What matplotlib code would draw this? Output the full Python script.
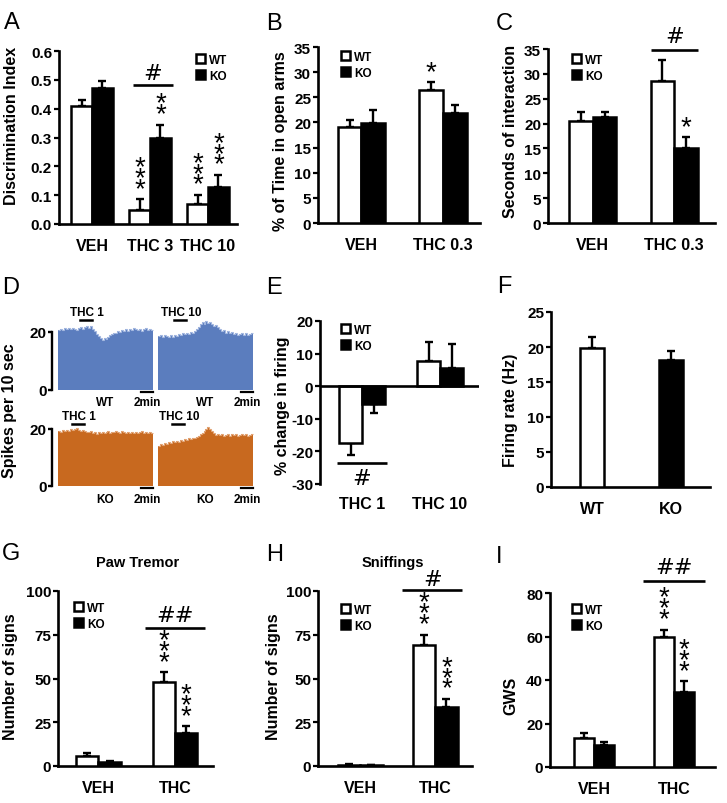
import numpy as np
import matplotlib
matplotlib.use('Agg')
import matplotlib.pyplot as plt
from matplotlib.ticker import FormatStrFormatter

plt.rcParams['font.family'] = ['Liberation Sans', 'DejaVu Sans']
plt.rcParams['font.weight'] = 'bold'
plt.rcParams['axes.unicode_minus'] = False

# ---------------- data ----------------
A_groups = ['VEH', 'THC 3', 'THC 10']
A_wt = [0.41, 0.05, 0.07]
A_wt_err = [0.02, 0.035, 0.03]
A_ko = [0.47, 0.30, 0.13]
A_ko_err = [0.025, 0.045, 0.04]
A_wt_stars = [0, 3, 3]
A_ko_stars = [0, 2, 3]

B_groups = ['VEH', 'THC 0.3']
B_wt = [19.0, 26.5]
B_wt_err = [1.5, 1.5]
B_ko = [19.8, 21.8]
B_ko_err = [2.7, 1.7]
B_wt_stars = [0, 1]
B_ko_stars = [0, 0]

C_groups = ['VEH', 'THC 0.3']
C_wt = [20.5, 28.5]
C_wt_err = [1.8, 4.2]
C_ko = [21.3, 15.0]
C_ko_err = [1.0, 2.2]
C_wt_stars = [0, 0]
C_ko_stars = [0, 1]

E_groups = ['THC 1', 'THC 10']
E_wt = [-17.3, 7.7]
E_wt_err = [3.8, 6.0]
E_ko = [-5.5, 5.6]
E_ko_err = [2.7, 7.4]

F_groups = ['WT', 'KO']
F_rate = [19.8, 18.2]
F_err = [1.6, 1.3]

G_groups = ['VEH', 'THC']
G_wt = [5.5, 47.8]
G_wt_err = [1.7, 5.7]
G_ko = [2.1, 18.9]
G_ko_err = [0.6, 3.8]
G_wt_stars = [0, 3]
G_ko_stars = [0, 3]

H_groups = ['VEH', 'THC']
H_wt = [0.8, 69.0]
H_wt_err = [0.3, 6.0]
H_ko = [0.4, 33.5]
H_ko_err = [0.2, 4.7]
H_wt_stars = [0, 3]
H_ko_stars = [0, 3]

I_groups = ['VEH', 'THC']
I_wt = [13.5, 59.8]
I_wt_err = [2.3, 3.3]
I_ko = [10.0, 34.5]
I_ko_err = [1.5, 4.9]
I_wt_stars = [0, 3]
I_ko_stars = [0, 3]

# D: firing-rate histograms (spikes per bin)
D_wt_thc1 = [20.6, 21.2, 20.8, 21.5, 21.0, 21.3, 20.9, 21.4, 21.1, 20.7, 21.3,
             21.6, 21.2, 21.8, 22.0, 21.4, 21.9, 21.0,
             20.2, 19.4, 18.6,
             17.8, 17.4, 17.9, 17.6, 18.3,
             18.9, 19.4, 19.8, 19.5, 20.2,
             20.0, 20.6, 20.3, 20.9, 20.5, 21.2, 20.8, 21.5, 21.0, 20.6, 21.1, 20.4,
             20.9, 21.3, 20.7, 21.0, 20.8]
D_wt_thc10 = [18.5, 18.9, 18.3, 19.0, 18.6, 18.2, 18.8, 18.4, 19.1,
              18.7, 19.3, 18.9, 19.5, 19.2, 19.8, 19.4,
              20.0, 19.6, 20.4, 21.0, 21.8, 22.6,
              23.5, 22.9, 23.8, 23.2, 23.6, 22.8,
              22.2, 22.5, 21.6, 21.0, 20.4, 20.8,
              19.8, 20.2, 19.5, 19.9, 19.2, 19.6, 19.0, 19.4, 19.7, 19.1, 19.5, 18.9,
              19.3, 19.6]
D_ko_thc1 = [19.3, 19.0, 19.6, 19.2, 19.8, 19.4, 20.1, 19.5, 19.9, 20.3, 19.6, 19.2,
             19.7, 19.3, 19.0,
             18.8, 19.2, 18.6, 18.9, 18.4, 18.8, 18.5, 19.0, 18.6, 18.9, 19.3, 18.7,
             19.1, 18.8, 19.4, 18.9, 18.6, 19.2, 18.8, 18.5, 19.0, 18.7, 19.1, 18.6,
             18.9, 18.5, 18.8, 19.2, 18.7, 18.9, 18.6, 18.8, 18.7]
D_ko_thc10 = [14.2, 14.8, 14.5, 15.2, 14.9, 15.5, 15.1, 15.7, 15.3, 15.9,
              15.6, 16.2, 15.8, 16.5, 16.1, 16.8, 16.4, 17.0, 16.7, 17.3,
              17.6, 18.2, 18.7, 19.3, 19.9, 20.6, 20.0, 19.2, 18.5, 18.0,
              18.3, 17.8, 18.2, 17.6, 18.0, 18.4, 17.7, 18.1, 17.9, 18.3, 17.6, 18.0,
              18.2, 17.8, 18.1, 17.7, 18.0, 18.2]
D_inj_wt = [11, 8]      # injection start bin (THC 1, THC 10)
D_inj_ko = [7, 7]
D_inj_len = 6           # bins
D_scale_bins = 6        # 2 min
D_doses = ['THC 1', 'THC 10']

# ---------------- layout helpers ----------------
W, H = 727, 804
fig = plt.figure(figsize=(W / 100, H / 100), dpi=100)


def px_axes(box):
    l, t, r, b = box
    return fig.add_axes([l / W, 1 - b / H, (r - l) / W, (b - t) / H])


def style(ax, xpad=10):
    for s in ['top', 'right']:
        ax.spines[s].set_visible(False)
    for s in ['left', 'bottom']:
        ax.spines[s].set_linewidth(1.9)
    ax.tick_params(axis='y', direction='out', length=3.5, width=1.6, labelsize=11, pad=1.5)
    ax.tick_params(axis='x', length=0, labelsize=11.5, pad=xpad)


def ylab(ax, text, box, right_px, center_px):
    l, t, r, b = box
    ax.set_ylabel(text, fontsize=11.5, fontweight='bold')
    ax.yaxis.set_label_coords((right_px + 3 - l) / (r - l), (b - center_px) / (b - t))


def errs(ax, xs, vals, es):
    vals = np.asarray(vals, float)
    es = np.asarray(es, float)
    lower = np.where(vals < 0, es, 0.0)
    upper = np.where(vals >= 0, es, 0.0)
    ax.errorbar(xs, vals, yerr=[lower, upper], fmt='none', ecolor='black',
                elinewidth=1.7, capsize=3, capthick=1.7, zorder=2, clip_on=False)


def stars(ax, xs, vals, es, counts):
    for x, v, e, n in zip(xs, vals, es, counts):
        if n == 0:
            continue
        ax.annotate('\n'.join(['*'] * n), (x, v + e), xytext=(0, 2.5),
                    textcoords='offset points', ha='center', va='baseline',
                    fontsize=20, fontweight='normal', linespacing=0.24,
                    multialignment='center', annotation_clip=False)


def sig(ax, xc, half, level, label, text_level):
    ax.plot([xc - half, xc + half], [level, level], color='black', lw=1.9,
            clip_on=False, solid_capstyle='butt')
    ax.text(xc, text_level, label, ha='center', va='center', fontsize=16,
            fontweight='normal', family='DejaVu Sans')


def legend(ax, bw, bk, box, lx, ty):
    l, t, r, b = box
    ax.legend([bw, bk], ['WT', 'KO'], loc='upper left',
              bbox_to_anchor=((lx - l) / (r - l), (b - ty) / (b - t)),
              frameon=False, fontsize=8.5, handlelength=0.8, handleheight=0.8,
              handletextpad=0.3, labelspacing=0.3, borderaxespad=0, borderpad=0)


def grouped(ax, groups, wt, wt_err, ko, ko_err, width, xlim):
    x = np.arange(len(groups))
    bw = ax.bar(x - width / 2, wt, width, color='white', edgecolor='black', linewidth=1.8, zorder=3)
    bk = ax.bar(x + width / 2, ko, width, color='black', edgecolor='black', linewidth=1.8, zorder=3)
    errs(ax, x - width / 2, wt, wt_err)
    errs(ax, x + width / 2, ko, ko_err)
    ax.set_xticks(x, groups)
    ax.set_xlim(*xlim)
    return x, bw, bk


def letter(txt, x, y):
    fig.text(x / W, 1 - y / H, txt, fontsize=17, fontweight='normal', ha='left', va='center')

# ---------------- Panel A ----------------
boxA = (59, 52, 237, 225)
ax = px_axes(boxA)
style(ax)
wA = 0.36
x, bw, bk = grouped(ax, A_groups, A_wt, A_wt_err, A_ko, A_ko_err, wA, (-0.57, 2.5))
ax.set_ylim(0, 0.6)
ax.set_yticks(np.arange(0, 0.61, 0.1))
ax.yaxis.set_major_formatter(FormatStrFormatter('%.1f'))
stars(ax, x - wA / 2, A_wt, A_wt_err, A_wt_stars)
stars(ax, x + wA / 2, A_ko, A_ko_err, A_ko_stars)
sig(ax, x[1] + 0.05, 0.34, 0.483, '#', 0.525)
legend(ax, bw, bk, boxA, 196, 55)
ylab(ax, 'Discrimination Index', boxA, 16, 126)
letter('A', 4, 23)

# ---------------- Panel B ----------------
boxB = (318, 48, 480, 224)
ax = px_axes(boxB)
style(ax)
wB = 0.29
x, bw, bk = grouped(ax, B_groups, B_wt, B_wt_err, B_ko, B_ko_err, wB, (-0.53, 1.45))
ax.set_ylim(0, 35)
ax.set_yticks(np.arange(0, 36, 5))
stars(ax, x - wB / 2, B_wt, B_wt_err, B_wt_stars)
stars(ax, x + wB / 2, B_ko, B_ko_err, B_ko_stars)
legend(ax, bw, bk, boxB, 341, 52)
ylab(ax, '% of Time in open arms', boxB, 285, 141)
letter('B', 266, 24)

# ---------------- Panel C ----------------
boxC = (548, 50, 715, 224)
ax = px_axes(boxC)
style(ax)
wC = 0.29
x, bw, bk = grouped(ax, C_groups, C_wt, C_wt_err, C_ko, C_ko_err, wC, (-0.55, 1.5))
ax.set_ylim(0, 35)
ax.set_yticks(np.arange(0, 36, 5))
stars(ax, x - wC / 2, C_wt, C_wt_err, C_wt_stars)
stars(ax, x + wC / 2, C_ko, C_ko_err, C_ko_stars)
sig(ax, x[1], 0.29, 34.8, '#', 37.6)
legend(ax, bw, bk, boxC, 572, 55)
ylab(ax, 'Seconds of interaction', boxC, 515, 131)
letter('C', 496, 24)

# ---------------- Panel D ----------------
def trace_row(box, t1, t10, inj, color, edge, tag, mark_y, lab_y):
    ax = px_axes(box)
    gap = 2.5
    n1 = len(t1)
    off = n1 + gap
    e1 = np.arange(n1 + 1) - 0.5
    e2 = np.arange(len(t10) + 1) - 0.5 + off
    ax.stairs(t1, e1, fill=True, baseline=0, color=color, lw=0, clip_on=False)
    ax.stairs(t10, e2, fill=True, baseline=0, color=color, lw=0, clip_on=False)
    ax.stairs(t1, e1, baseline=None, color=edge, lw=0.8, clip_on=False)
    ax.stairs(t10, e2, baseline=None, color=edge, lw=0.8, clip_on=False)
    ax.set_xlim(-0.5, off + len(t10) - 0.5)
    ax.set_ylim(0, 20)
    for s in ['top', 'right', 'bottom']:
        ax.spines[s].set_visible(False)
    ax.spines['left'].set_position(('outward', 4.3))
    ax.spines['left'].set_bounds(0, 20)
    ax.spines['left'].set_linewidth(1.7)
    ax.set_yticks([0, 20])
    ax.tick_params(axis='y', length=3, width=1.7, labelsize=11, pad=1)
    ax.set_xticks([])
    ax.patch.set_visible(False)
    for k, (start, dose, data, o) in enumerate(zip(inj, D_doses, (t1, t10), (0, off))):
        s = start + o - 0.5
        ax.plot([s, s + D_inj_len], [mark_y, mark_y], color='black', lw=1.8, clip_on=False)
        ax.annotate(dose, (s, mark_y), xytext=(-7 if k == 0 else -9, 6), textcoords='offset points',
                    ha='left', va='center', fontsize=8.5, annotation_clip=False)
        end = o + len(data) - 0.5
        ax.plot([end - D_scale_bins, end], [-0.8, -0.8], color='black', lw=1.6, clip_on=False)
        ax.text(end - D_scale_bins / 2, lab_y, '2min', ha='center', va='center', fontsize=8.5)
        ax.text(o + (len(data) - 1) / 2, lab_y, tag, ha='center', va='center', fontsize=8.5)
    return ax

trace_row((58, 333, 253, 391), D_wt_thc1, D_wt_thc10, D_inj_wt, '#5b7dbe', '#a4b8e0', 'WT', 24.1, -4.0)
trace_row((58, 430, 253, 487), D_ko_thc1, D_ko_thc10, D_inj_ko, '#c8691f', '#e2a577', 'KO', 21.8, -4.6)
fig.text(10 / W, 1 - 411 / H, 'Spikes per 10 sec', rotation=90, ha='center', va='center',
         fontsize=11.5)
letter('D', 2, 288)

# ---------------- Panel E ----------------
boxE = (320, 322, 479, 485)
ax = px_axes(boxE)
style(ax, xpad=8.6)
ax.spines['bottom'].set_visible(False)
wE = 0.295
x, bw, bk = grouped(ax, E_groups, E_wt, E_wt_err, E_ko, E_ko_err, wE, (-0.54, 1.5))
ax.axhline(0, color='black', lw=1.9, zorder=4)
ax.set_ylim(-30, 20)
ax.set_yticks(np.arange(-30, 21, 10))
sig(ax, x[0], 0.32, -23.5, '#', -28.3)
legend(ax, bw, bk, boxE, 341, 325)
ylab(ax, '% change in firing', boxE, 287, 406)
letter('E', 266, 288)

# ---------------- Panel F ----------------
boxF = (551, 313, 710, 488)
ax = px_axes(boxF)
style(ax)
xf = np.arange(len(F_groups))
ax.bar(xf, F_rate, 0.31, color=['white', 'black'], edgecolor='black', linewidth=1.8, zorder=3)
errs(ax, xf, F_rate, F_err)
ax.set_xticks(xf, F_groups)
ax.set_xlim(-0.52, 1.49)
ax.set_ylim(0, 25)
ax.set_yticks(np.arange(0, 26, 5))
ylab(ax, 'Firing rate (Hz)', boxF, 515, 410)
letter('F', 497, 287)

# ---------------- Panel G ----------------
boxG = (58, 592, 213, 767)
ax = px_axes(boxG)
style(ax)
wG = 0.29
x, bw, bk = grouped(ax, G_groups, G_wt, G_wt_err, G_ko, G_ko_err, wG, (-0.53, 1.5))
ax.set_ylim(0, 100)
ax.set_yticks([0, 25, 50, 75, 100])
stars(ax, x - wG / 2, G_wt, G_wt_err, G_wt_stars)
stars(ax, x + wG / 2, G_ko, G_ko_err, G_ko_stars)
sig(ax, x[1], 0.39, 79.0, '##', 86.0)
legend(ax, bw, bk, boxG, 74, 603)
ylab(ax, 'Number of signs', boxG, 15, 677)
fig.text(138 / W, 1 - 563 / H, 'Paw Tremor', ha='center', va='center', fontsize=10.5)
letter('G', 2, 554)

# ---------------- Panel H ----------------
boxH = (318, 592, 472, 767)
ax = px_axes(boxH)
style(ax)
wH = 0.30
x, bw, bk = grouped(ax, H_groups, H_wt, H_wt_err, H_ko, H_ko_err, wH, (-0.56, 1.49))
ax.set_ylim(0, 100)
ax.set_yticks([0, 25, 50, 75, 100])
stars(ax, x - wH / 2, H_wt, H_wt_err, H_wt_stars)
stars(ax, x + wH / 2, H_ko, H_ko_err, H_ko_stars)
sig(ax, x[1] - 0.04, 0.40, 100.4, '#', 107.0)
legend(ax, bw, bk, boxH, 341, 605)
ylab(ax, 'Number of signs', boxH, 278, 677)
fig.text(393 / W, 1 - 563 / H, 'Sniffings', ha='center', va='center', fontsize=10.5)
letter('H', 266, 555)

# ---------------- Panel I ----------------
boxI = (550, 594, 715, 768)
ax = px_axes(boxI)
style(ax)
wI = 0.25
x, bw, bk = grouped(ax, I_groups, I_wt, I_wt_err, I_ko, I_ko_err, wI, (-0.55, 1.51))
ax.set_ylim(0, 80)
ax.set_yticks(np.arange(0, 81, 20))
stars(ax, x - wI / 2, I_wt, I_wt_err, I_wt_stars)
stars(ax, x + wI / 2, I_ko, I_ko_err, I_ko_stars)
sig(ax, x[1], 0.39, 85.5, '##', 92.0)
legend(ax, bw, bk, boxI, 572, 605)
ylab(ax, 'GWS', boxI, 515, 696)
letter('I', 496, 557)

fig.savefig('out.png', dpi=100)
